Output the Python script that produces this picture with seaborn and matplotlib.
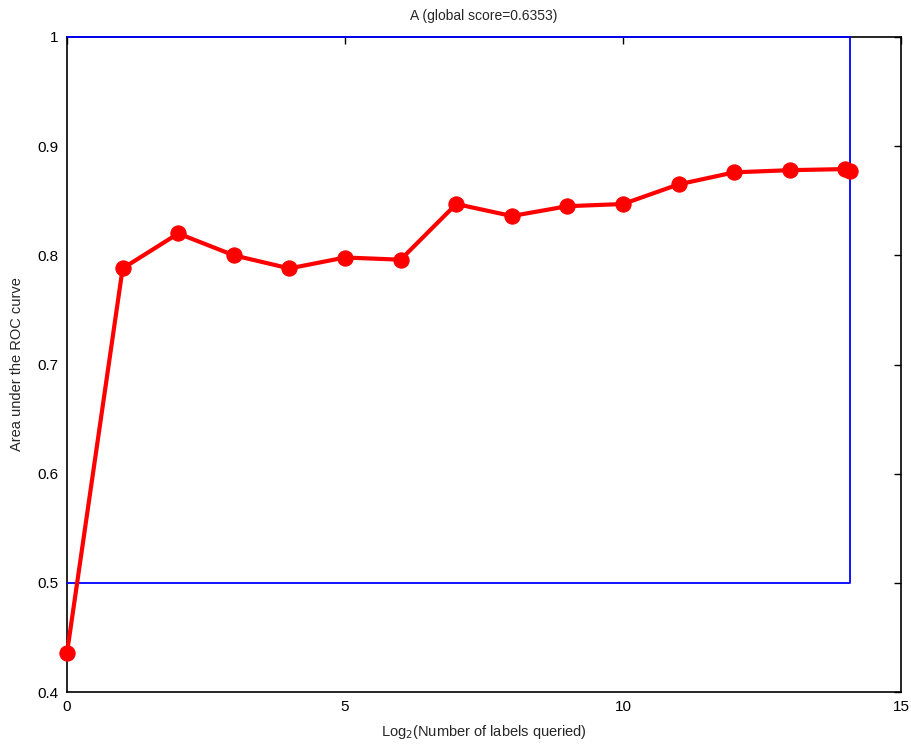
import matplotlib
matplotlib.use("Agg")
import matplotlib.pyplot as plt
import seaborn as sns
import pandas as pd

# Learning curve: AUC versus log2 of the number of queried labels
log2_labels = [0, 1, 2, 3, 4, 5, 6, 7, 8, 9, 10, 11, 12, 13, 14, 14.08]
auc = [0.436, 0.788, 0.820, 0.800, 0.788, 0.798, 0.796, 0.847, 0.836,
       0.845, 0.847, 0.865, 0.876, 0.878, 0.879, 0.877]

# Reference box spanning the full label budget (left side lies on the y axis)
box_x = [0, 14.08, 14.08, 0]
box_y = [1.0, 1.0, 0.5, 0.5]

title = "A (global score=0.6353)"
xlabel = r"Log$_2$(Number of labels queried)"
ylabel = "Area under the ROC curve"
xticks = [0, 5, 10, 15]
yticks = [0.4, 0.5, 0.6, 0.7, 0.8, 0.9, 1.0]
ytick_labels = ["0.4", "0.5", "0.6", "0.7", "0.8", "0.9", "1"]

sns.set_style("white")
plt.rcParams["font.family"] = ["Liberation Sans", "DejaVu Sans"]

df = pd.DataFrame({"x": log2_labels, "auc": auc})
box = pd.DataFrame({"x": box_x, "y": box_y})

fig = plt.figure(figsize=(9.12, 7.5), dpi=100)
ax = fig.add_axes([0.0735, 0.0773, 0.9145, 0.8734])

sns.lineplot(data=box, x="x", y="y", sort=False, estimator=None,
             color="#0000ff", linewidth=1.3, ax=ax, zorder=2.7, clip_on=False)
sns.lineplot(data=df, x="x", y="auc", sort=False, estimator=None,
             color="#ff0000", linewidth=3.0, marker="o", markersize=11,
             markeredgecolor="#ff0000", ax=ax, zorder=3, clip_on=False)

ax.set_xlim(0, 15)
ax.set_ylim(0.4, 1.0)
ax.set_xticks(xticks)
ax.set_xticklabels([str(t) for t in xticks])
ax.set_yticks(yticks)
ax.set_yticklabels(ytick_labels)
ax.tick_params(direction="in", length=5, width=1, top=True, right=True,
               labelsize=11, colors="black", pad=6)
for side in ax.spines.values():
    side.set_visible(True)
    side.set_color("black")
    side.set_linewidth(1.2)

ax.set_title(title, fontsize=10, pad=12)
ax.set_xlabel(xlabel, fontsize=10.5, labelpad=6)
ax.set_ylabel(ylabel, fontsize=10.5, labelpad=10)

fig.savefig("out.png", dpi=100, facecolor="white")
